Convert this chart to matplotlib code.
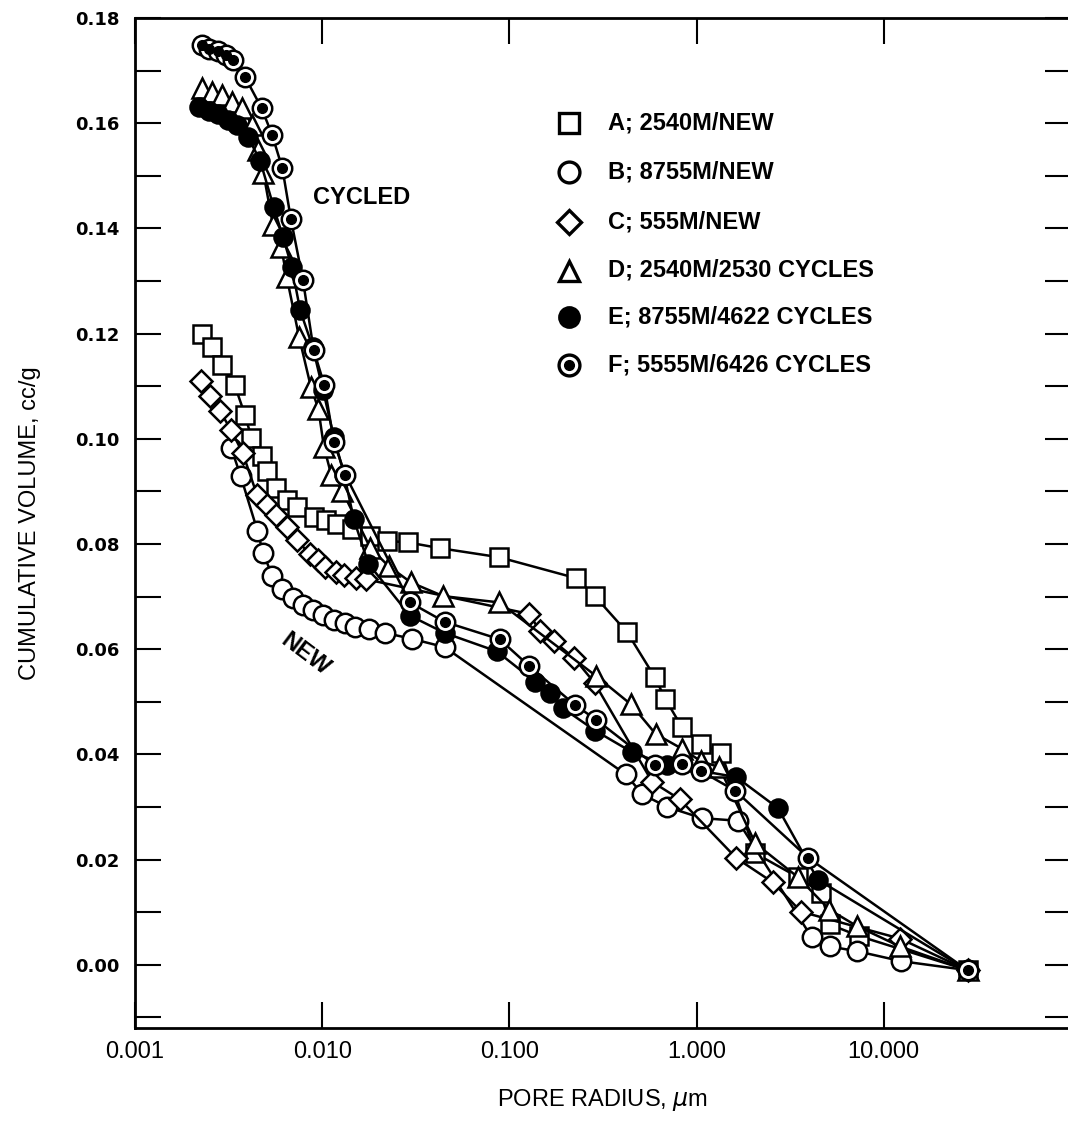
import matplotlib
matplotlib.use('Agg')
import matplotlib.pyplot as plt
from matplotlib import font_manager
from matplotlib.ticker import MultipleLocator, NullLocator

# pore radius (um) / cumulative volume (cc/g)
a_x = [0.00228, 0.00258, 0.00290, 0.00341, 0.00387, 0.00419, 0.00475, 0.00507, 0.00568, 0.00649,
       0.00735, 0.00907, 0.0105, 0.0120, 0.0144, 0.0180, 0.0223, 0.0288, 0.0428, 0.0879,
       0.228, 0.286, 0.426, 0.598, 0.679, 0.831, 1.055, 1.355, 2.06, 3.47, 4.62, 5.13, 7.35, 28.0]
a_y = [0.1200, 0.1175, 0.1140, 0.1102, 0.1045, 0.1002, 0.0968, 0.0939, 0.0907, 0.0883,
       0.0870, 0.0851, 0.0846, 0.0839, 0.0828, 0.0815, 0.0806, 0.0803, 0.0792, 0.0775,
       0.0735, 0.0701, 0.0632, 0.0547, 0.0506, 0.0453, 0.0419, 0.0403, 0.0212, 0.0167, 0.0137, 0.0077, 0.0055, -0.001]

b_x = [0.00327, 0.00367, 0.00451, 0.00483, 0.00541, 0.00612, 0.00694, 0.00786, 0.00889, 0.01006,
       0.01153, 0.0132, 0.0149, 0.01778, 0.0217, 0.0300, 0.0451, 0.419, 0.514, 0.699,
       1.064, 1.66, 4.11, 5.14, 7.19, 12.4, 28.0]
b_y = [0.0982, 0.0929, 0.0825, 0.0783, 0.0740, 0.0714, 0.0698, 0.0684, 0.0674, 0.0665,
       0.0656, 0.0649, 0.0643, 0.0638, 0.0631, 0.0620, 0.0604, 0.0362, 0.0324, 0.0300,
       0.0279, 0.0274, 0.0053, 0.0035, 0.0026, 0.0007, -0.001]

c_x = [0.00224, 0.00251, 0.00285, 0.00327, 0.00376, 0.00449, 0.00509, 0.00570, 0.00647, 0.00731,
       0.00861, 0.00952, 0.0104, 0.01178, 0.0130, 0.0151, 0.0171, 0.128, 0.145, 0.173,
       0.222, 0.285, 0.579, 0.811, 1.63, 2.55, 3.62, 12.2, 28.0]
c_y = [0.1109, 0.1082, 0.1052, 0.1016, 0.0973, 0.0893, 0.0875, 0.0856, 0.0832, 0.0807,
       0.0781, 0.0770, 0.0756, 0.0747, 0.0742, 0.0735, 0.0733, 0.0667, 0.0635, 0.0615,
       0.0583, 0.0536, 0.0348, 0.0315, 0.0203, 0.0157, 0.0101, 0.0050, -0.001]

d_x = [0.00228, 0.00258, 0.00292, 0.00331, 0.00375, 0.00420, 0.00454, 0.00485, 0.00545, 0.00604,
       0.00647, 0.00753, 0.00871, 0.00954, 0.01021, 0.01117, 0.01283, 0.01811, 0.02265, 0.0298,
       0.0443, 0.0884, 0.291, 0.447, 0.604, 0.834, 1.057, 1.32, 2.06, 3.47, 5.12, 7.16, 12.2, 28.0]
d_y = [0.1666, 0.1660, 0.1653, 0.1640, 0.1629, 0.1597, 0.1549, 0.1506, 0.1407, 0.1364,
       0.1307, 0.1193, 0.1098, 0.1057, 0.0985, 0.0932, 0.0900, 0.0792, 0.0758, 0.0727,
       0.0701, 0.0689, 0.0549, 0.0495, 0.0439, 0.0411, 0.0387, 0.0376, 0.0231, 0.0167, 0.0105, 0.0074, 0.0035, -0.001]

e_x = [0.00220, 0.00247, 0.00276, 0.00312, 0.00349, 0.00401, 0.00466, 0.00551, 0.00618, 0.00689,
       0.00763, 0.00889, 0.0101, 0.01153, 0.0131, 0.01476, 0.01763, 0.0294, 0.0451, 0.0857,
       0.1377, 0.164, 0.193, 0.288, 0.454, 0.692, 1.63, 2.72, 4.44, 28.0]
e_y = [0.1631, 0.1624, 0.1617, 0.1607, 0.1596, 0.1574, 0.1529, 0.1440, 0.1383, 0.1326,
       0.1244, 0.1175, 0.1093, 0.1004, 0.0932, 0.0847, 0.0763, 0.0664, 0.0631, 0.0596,
       0.0538, 0.0516, 0.0488, 0.0445, 0.0404, 0.0380, 0.0357, 0.0298, 0.0162, -0.001]

f_x = [0.00227, 0.00250, 0.00277, 0.00305, 0.00333, 0.00387, 0.00474, 0.00540, 0.00613, 0.00681,
       0.00789, 0.00900, 0.01025, 0.01155, 0.01327, 0.0294, 0.0451, 0.0887, 0.1277, 0.224,
       0.291, 0.597, 0.832, 1.059, 1.61, 3.96, 28.0]
f_y = [0.1748, 0.1741, 0.1737, 0.1729, 0.1720, 0.1688, 0.1629, 0.1578, 0.1514, 0.1417,
       0.1302, 0.1169, 0.1103, 0.0994, 0.0932, 0.0689, 0.0652, 0.0619, 0.0568, 0.0494,
       0.0466, 0.0380, 0.0381, 0.0368, 0.0331, 0.0203, -0.001]

labels = ['A; 2540M/NEW', 'B; 8755M/NEW', 'C; 555M/NEW',
          'D; 2540M/2530 CYCLES', 'E; 8755M/4622 CYCLES', 'F; 5555M/6426 CYCLES']
x_ticks = [0.001, 0.01, 0.1, 1, 10]
x_ticklabels = ['0.001', '0.010', '0.100', '1.000', '10.000']
y_ticks = [0.00, 0.02, 0.04, 0.06, 0.08, 0.10, 0.12, 0.14, 0.16, 0.18]

names = {f.name for f in font_manager.fontManager.ttflist}
if 'Liberation Sans Narrow' in names:
    narrow, nsize = 'Liberation Sans Narrow', 20
else:
    narrow, nsize = 'Liberation Sans', 17

fig = plt.figure(figsize=(10.68, 11.34), dpi=100)
ax = fig.add_axes([135/1068, 1 - 1028/1134, 936/1068, 1010/1134])

series = [(a_x, a_y, 's', 13, 'white'), (b_x, b_y, 'o', 14, 'white'), (c_x, c_y, 'D', 11, 'white'),
          (d_x, d_y, '^', 14, 'white'), (e_x, e_y, 'o', 13, 'black'), (f_x, f_y, 'o', 14, 'white')]
for x, y, m, ms, fc in series:
    ax.plot(x, y, color='black', lw=1.8, marker=m, ms=ms, mfc=fc, mec='black', mew=1.8)
ax.plot(f_x, f_y, ls='none', marker='o', ms=7, color='black')

ax.set_xscale('log')
ax.set_xlim(0.001, 100)
ax.set_ylim(-0.012, 0.18)
ax.set_xticks(x_ticks, x_ticklabels)
ax.xaxis.set_minor_locator(NullLocator())
ax.set_yticks(y_ticks, ['%.2f' % v for v in y_ticks])
ax.yaxis.set_minor_locator(MultipleLocator(0.01))
ax.tick_params(which='both', direction='in', length=19, width=1.5, top=True, right=True)
ax.tick_params(axis='x', pad=9)
ax.tick_params(axis='y', pad=11)
for lab in ax.get_xticklabels():
    lab.set_family(narrow)
    lab.set_fontsize(nsize)
for lab in ax.get_yticklabels():
    lab.set_family('DejaVu Sans')
    lab.set_fontweight('bold')
    lab.set_fontsize(13)
for sp in ax.spines.values():
    sp.set_linewidth(2)

ax.set_xlabel('PORE RADIUS, $\\mu$m', family=narrow, fontsize=nsize)
ax.set_ylabel('CUMULATIVE VOLUME, cc/g', family=narrow, fontsize=nsize)
ax.xaxis.set_label_coords(0.5, -0.058)
ax.yaxis.set_label_coords(-0.100, 0.5)

ax.text(0.190, 0.822, 'CYCLED', transform=ax.transAxes, family='Liberation Sans',
        fontweight='bold', fontsize=17, va='center')
ax.text(0.182, 0.370, 'NEW', transform=ax.transAxes, family='Liberation Sans',
        fontweight='bold', fontsize=17, va='center', ha='center', rotation=-37)

# hand-drawn key
rows = [0.896, 0.848, 0.798, 0.750, 0.704, 0.656]
for (x, y, m, ms, fc), lab, ry in zip(series, labels, rows):
    ax.plot([0.464], [ry], transform=ax.transAxes, ls='none', marker=m, ms=ms + 1, mfc=fc,
            mec='black', mew=2.4)
    ax.text(0.505, ry, lab, transform=ax.transAxes, family='Liberation Sans',
            fontweight='bold', fontsize=17, va='center')
ax.plot([0.464], [rows[5]], transform=ax.transAxes, ls='none', marker='o', ms=7, color='black')

fig.savefig('out.png', dpi=100)
